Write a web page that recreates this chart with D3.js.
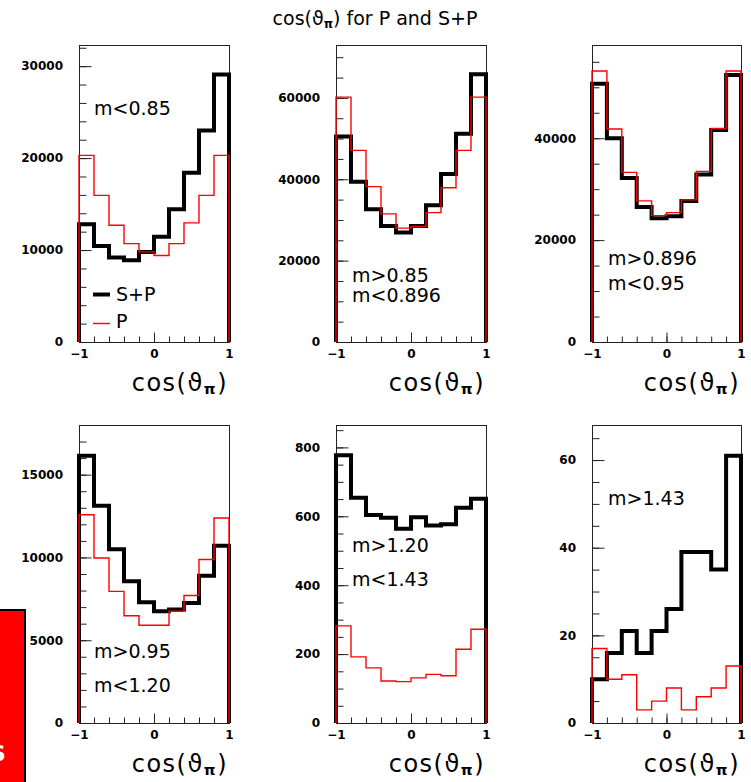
<!DOCTYPE html>
<html>
<head>
<meta charset="utf-8">
<script src="https://cdn.jsdelivr.net/npm/d3@7"></script>
<style>
  html, body { margin: 0; padding: 0; background: #fff; }
  svg { display: block; }
</style>
</head>
<body>
<svg id="chart" width="751" height="782"></svg>
<script>
// ---------------- data ----------------
const binEdges = [-1, -0.8, -0.6, -0.4, -0.2, 0, 0.2, 0.4, 0.6, 0.8, 1];

const titleText = "for P and S+P";
const seriesNames = ["S+P", "P"];

const sp1 = [12800, 10450, 9200, 8900, 9800, 11450, 14450, 18400, 23000, 29100];
const p1  = [20300, 15950, 12700, 10700, 9800, 9400, 10700, 12950, 15950, 20300];

const sp2 = [50500, 39400, 32600, 28500, 26900, 28500, 33600, 41300, 51200, 65800];
const p2  = [60200, 47100, 38200, 31500, 28000, 28400, 31800, 37900, 47100, 60200];

const sp3 = [50700, 40000, 32200, 26500, 24300, 24700, 27700, 32900, 41600, 52400];
const p3  = [53200, 41800, 33300, 27700, 24800, 25400, 27900, 33500, 41900, 53200];

const sp4 = [16150, 13130, 10500, 8560, 7300, 6750, 6850, 7250, 8900, 10700];
const p4  = [12580, 9970, 7950, 6480, 5900, 5900, 6750, 7700, 9880, 12380];

const sp5 = [777, 654, 604, 596, 564, 597, 573, 577, 625, 651];
const p5  = [282, 192, 160, 122, 120, 131, 141, 137, 214, 272];

const sp6 = [10, 16, 21, 16, 21, 26, 39, 39, 35, 61];
const p6  = [17, 10, 11, 3, 5, 8, 3, 6, 8, 13];

const yMaxes     = [32300, 73000, 58300, 18000, 865, 68];
const yMajorStep = [10000, 20000, 20000, 5000, 200, 20];
const yMinorStep = [2000, 5000, 5000, 1000, 50, 5];

const xMajorTicks = [-1, 0, 1];
const xTickLabels = ["\u22121", "0", "1"];

const cutLabels = [
  ["m<0.85"],
  ["m>0.85", "m<0.896"],
  ["m>0.896", "m<0.95"],
  ["m>0.95", "m<1.20"],
  ["m>1.20", "m<1.43"],
  ["m>1.43"]
];

// ---------------- layout ----------------
const svg = d3.select("#chart");
const cols = [[79, 229], [336, 486], [592, 741]];
const rows = [[45, 342], [425, 723]];
const labelPos = [
  {x: 94, y: [115]},
  {x: 352, y: [282, 302]},
  {x: 608, y: [265, 290]},
  {x: 94, y: [658, 692]},
  {x: 352, y: [552, 586]},
  {x: 608, y: [505]}
];
const spAll = [sp1, sp2, sp3, sp4, sp5, sp6];
const pAll = [p1, p2, p3, p4, p5, p6];

const tickFont = "'DejaVu Sans', sans-serif";
const textFont = "'DejaVu Sans', sans-serif";

function cosTitle(sel, size) {
  sel.append("tspan").text("cos(");
  sel.append("tspan").text("\u03D1");
  sel.append("tspan").attr("font-size", size * 0.62).attr("font-weight", "bold")
    .attr("dy", size * 0.14).text("\u03C0");
  sel.append("tspan").attr("dy", -size * 0.14).text(")");
}

// title
const title = svg.append("text")
  .attr("x", 375).attr("y", 25)
  .attr("text-anchor", "middle")
  .attr("font-family", textFont)
  .attr("font-size", 19)
  .attr("fill", "#000");
cosTitle(title, 19);
title.append("tspan").text(" " + titleText);

function stepPoints(vals) {
  const pts = [[binEdges[0], 0]];
  vals.forEach((v, i) => {
    pts.push([binEdges[i], v]);
    pts.push([binEdges[i + 1], v]);
  });
  pts.push([binEdges[binEdges.length - 1], 0]);
  return pts;
}

for (let k = 0; k < 6; k++) {
  const c = cols[k % 3], r = rows[Math.floor(k / 3)];
  const x = d3.scaleLinear().domain([binEdges[0], binEdges[binEdges.length - 1]]).range([c[0], c[1]]);
  const y = d3.scaleLinear().domain([0, yMaxes[k]]).range([r[1], r[0]]);
  const g = svg.append("g");

  // frame
  g.append("rect")
    .attr("x", c[0] + 0.5).attr("y", r[0] + 0.5)
    .attr("width", c[1] - c[0]).attr("height", r[1] - r[0])
    .attr("fill", "none").attr("stroke", "#222").attr("stroke-width", 1);

  // y axis ticks (inside)
  const yMinor = d3.range(0, yMaxes[k] + 1e-9, yMinorStep[k]);
  const yMajor = d3.range(0, yMaxes[k] + 1e-9, yMajorStep[k]);
  const yAxisMinor = d3.axisRight(y).tickValues(yMinor).tickSize(7).tickFormat("");
  const yAxisMajor = d3.axisRight(y).tickValues(yMajor).tickSize(12).tickFormat("");
  [yAxisMinor, yAxisMajor].forEach(ax => {
    const a = g.append("g").attr("transform", `translate(${c[0] + 0.5},0)`).call(ax);
    a.select(".domain").remove();
    a.selectAll("line").attr("stroke", "#222").attr("stroke-width", 1);
  });
  // y labels
  const yLab = d3.axisLeft(y).tickValues(yMajor).tickSize(0).tickPadding(16).tickFormat(d3.format("d"));
  const yl = g.append("g").attr("transform", `translate(${c[0]},0)`).call(yLab);
  yl.select(".domain").remove();
  yl.selectAll("text").attr("font-family", tickFont).attr("font-weight", "bold")
    .attr("font-size", 12).attr("fill", "#000");

  // x axis ticks (inside, upward)
  const xAxisMinor = d3.axisTop(x).tickValues(binEdges).tickSize(6).tickFormat("");
  const xAxisMajor = d3.axisTop(x).tickValues(xMajorTicks).tickSize(10).tickFormat("");
  [xAxisMinor, xAxisMajor].forEach(ax => {
    const a = g.append("g").attr("transform", `translate(0,${r[1] + 0.5})`).call(ax);
    a.select(".domain").remove();
    a.selectAll("line").attr("stroke", "#222").attr("stroke-width", 1);
  });
  const xLab = d3.axisBottom(x).tickValues(xMajorTicks).tickSize(0).tickPadding(7)
    .tickFormat((d, i) => xTickLabels[i]);
  const xl = g.append("g").attr("transform", `translate(0,${r[1]})`).call(xLab);
  xl.select(".domain").remove();
  xl.selectAll("text").attr("font-family", tickFont).attr("font-weight", "bold")
    .attr("font-size", 12).attr("fill", "#000");

  // histograms
  const line = d3.line().x(d => x(d[0])).y(d => y(d[1]));
  g.append("path").attr("d", line(stepPoints(spAll[k])))
    .attr("fill", "none").attr("stroke", "#000").attr("stroke-width", 4)
    .attr("stroke-linejoin", "miter").attr("stroke-linecap", "butt");
  g.append("path").attr("d", line(stepPoints(pAll[k])))
    .attr("fill", "none").attr("stroke", "#ff0000").attr("stroke-width", 1.4)
    .attr("stroke-linejoin", "miter");

  // axis title
  const at = g.append("text")
    .attr("x", c[1] - 1).attr("y", r[1] + 48.5)
    .attr("text-anchor", "end")
    .attr("font-family", textFont)
    .attr("font-size", 24)
    .attr("letter-spacing", 1.5)
    .attr("fill", "#000");
  cosTitle(at, 24);

  // cut labels
  cutLabels[k].forEach((t, i) => {
    g.append("text").attr("x", labelPos[k].x).attr("y", labelPos[k].y[i])
      .attr("font-family", textFont).attr("font-size", 19).attr("fill", "#000").text(t);
  });
}

// legend in first panel
const leg = svg.append("g");
leg.append("line").attr("x1", 93).attr("x2", 110).attr("y1", 294.5).attr("y2", 294.5)
  .attr("stroke", "#000").attr("stroke-width", 4);
leg.append("text").attr("x", 116).attr("y", 301).attr("font-family", textFont)
  .attr("font-size", 19).text(seriesNames[0]);
leg.append("line").attr("x1", 93).attr("x2", 110).attr("y1", 323.5).attr("y2", 323.5)
  .attr("stroke", "#ff0000").attr("stroke-width", 1.4);
leg.append("text").attr("x", 116).attr("y", 328).attr("font-family", textFont)
  .attr("font-size", 19).text(seriesNames[1]);

// red box at lower-left edge
svg.append("rect").attr("x", -3).attr("y", 610).attr("width", 28).attr("height", 180)
  .attr("fill", "#ff0000").attr("stroke", "#000").attr("stroke-width", 2);
svg.append("text").attr("x", -10).attr("y", 761).attr("font-family", textFont)
  .attr("font-weight", "bold").attr("font-size", 22).attr("fill", "#fff").text("S");
</script>
</body>
</html>
